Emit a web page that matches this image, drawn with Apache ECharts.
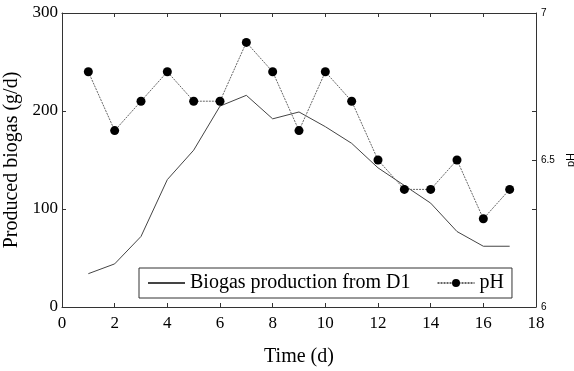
<!DOCTYPE html>
<html>
<head>
<meta charset="utf-8">
<script src="https://cdn.jsdelivr.net/npm/echarts@6/dist/echarts.min.js"></script>
<style>
  html, body { margin: 0; padding: 0; background: #fff; }
  #chart { width: 574px; height: 371px; }
</style>
</head>
<body>
<div id="chart"></div>
<script>
// days and readings taken off the figure
const days = [1, 2, 3, 4, 5, 6, 7, 8, 9, 10, 11, 12, 13, 14, 15, 16, 17];
const biogas = [34, 44, 72, 130, 160, 205, 216, 192, 199, 184, 167, 142, 124, 106, 77, 62, 62];
const ph = [6.8, 6.6, 6.7, 6.8, 6.7, 6.7, 6.9, 6.8, 6.6, 6.8, 6.7, 6.5, 6.4, 6.4, 6.5, 6.3, 6.4];

const serif = 'Liberation Serif';
const sans = 'Liberation Sans';
const axisColor = '#333';

const chart = echarts.init(document.getElementById('chart'));

const pairs = (ys) => days.map((d, i) => [d, ys[i]]);

const tick = { show: true, inside: true, length: 4, lineStyle: { color: axisColor } };
const line = { show: true, onZero: false, lineStyle: { color: axisColor } };

const option = {
    animation: false,
    grid: { left: 62, right: 38, top: 13, bottom: 64, outerBoundsMode: 'none' },
    legend: {
        left: 139,
        top: 268,
        itemWidth: 37,
        itemHeight: 10,
        itemGap: 26,
        padding: [5, 8, 5, 8],
        borderColor: axisColor,
        borderWidth: 1,
        textStyle: { fontFamily: serif, fontSize: 20, color: '#000' },
        data: [
            { name: 'Biogas production from D1', itemStyle: { opacity: 0 } },
            { name: 'pH' },
        ],
    },
    xAxis: [
        {
            type: 'value',
            min: 0,
            max: 18,
            interval: 2,
            name: 'Time (d)',
            nameLocation: 'middle',
            nameGap: 40,
            nameTextStyle: { fontFamily: serif, fontSize: 20, color: '#000' },
            axisLine: line,
            axisTick: tick,
            axisLabel: { fontFamily: serif, fontSize: 17, color: '#000', margin: 8 },
            splitLine: { show: false },
        },
        {
            type: 'value',
            position: 'top',
            min: 0,
            max: 18,
            interval: 2,
            axisLine: line,
            axisTick: tick,
            axisLabel: { show: false },
            splitLine: { show: false },
        },
    ],
    yAxis: [
        {
            type: 'value',
            min: 0,
            max: 300,
            interval: 100,
            name: 'Produced biogas (g/d)',
            nameLocation: 'middle',
            nameGap: 37,
            nameTextStyle: { fontFamily: serif, fontSize: 20, color: '#000' },
            axisLine: line,
            axisTick: tick,
            axisLabel: { fontFamily: serif, fontSize: 17, color: '#000', margin: 4 },
            splitLine: { show: false },
        },
        {
            type: 'value',
            position: 'right',
            min: 6,
            max: 7,
            interval: 0.5,
            name: 'pH',
            nameLocation: 'middle',
            nameGap: 28,
            nameRotate: 90,
            nameTextStyle: { fontFamily: sans, fontSize: 11, color: '#000' },
            axisLine: line,
            axisTick: tick,
            axisLabel: { fontFamily: sans, fontSize: 10, color: '#000', margin: 5 },
            splitLine: { show: false },
        },
        {
            // mirrored left ticks on the right edge
            type: 'value',
            position: 'right',
            min: 0,
            max: 300,
            interval: 100,
            axisLine: { show: false, onZero: false },
            axisTick: tick,
            axisLabel: { show: false },
            splitLine: { show: false },
        },
    ],
    series: [
        {
            name: 'Biogas production from D1',
            type: 'line',
            yAxisIndex: 0,
            data: pairs(biogas),
            symbol: 'none',
            lineStyle: { color: '#444', width: 1 },
            itemStyle: { color: '#444' },
        },
        {
            name: 'pH',
            type: 'line',
            yAxisIndex: 1,
            data: pairs(ph),
            symbol: 'circle',
            symbolSize: 9,
            lineStyle: { color: '#666', width: 1, type: [2, 1] },
            itemStyle: { color: '#000' },
        },
    ],
};

chart.setOption(option);
</script>
</body>
</html>
